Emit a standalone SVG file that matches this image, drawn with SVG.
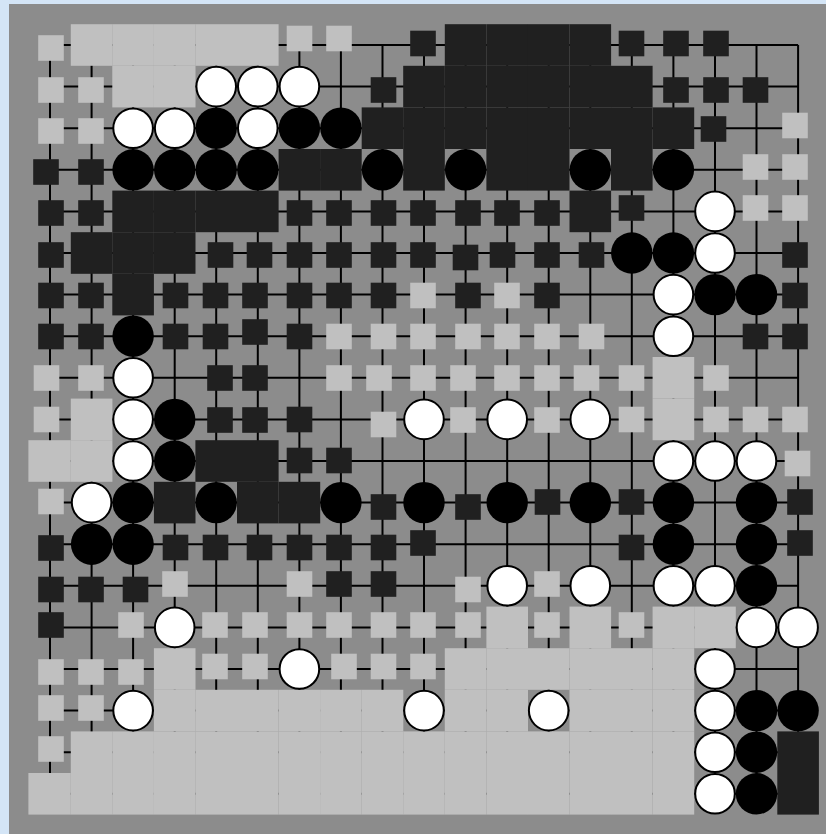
<svg xmlns="http://www.w3.org/2000/svg" width="826" height="834" viewBox="0 0 826 834">
<style>
.bl{fill:#c0c0c0}
.bd{fill:#202020}
.s{width:25.6px;height:25.6px}
.b{fill:#000}
.w{fill:#fff;stroke:#000;stroke-width:2}
.grid{stroke:#000;stroke-width:2;fill:none}
</style>
<rect x="0" y="0" width="826" height="834" fill="#d4e5f6"/>
<rect id="board" x="9" y="4" width="817" height="830" fill="#8c8c8c"/>
<g id="grid">
<path class="grid" d="M50 45V793.8M91.6 45V793.8M133.1 45V793.8M174.7 45V793.8M216.2 45V793.8M257.8 45V793.8M299.4 45V793.8M340.9 45V793.8M382.5 45V793.8M424 45V793.8M465.6 45V793.8M507.2 45V793.8M548.7 45V793.8M590.3 45V793.8M631.8 45V793.8M673.4 45V793.8M715 45V793.8M756.5 45V793.8M798.1 45V793.8"/>
<path class="grid" d="M50 45H798.1M50 86.6H798.1M50 128.2H798.1M50 169.8H798.1M50 211.4H798.1M50 253H798.1M50 294.6H798.1M50 336.2H798.1M50 377.8H798.1M50 419.4H798.1M50 461H798.1M50 502.6H798.1M50 544.2H798.1M50 585.8H798.1M50 627.4H798.1M50 669H798.1M50 710.6H798.1M50 752.2H798.1M50 793.8H798.1"/>
</g>
<g id="territory-large-light" class="bl">
<rect x="70.8" y="24.2" width="41.6" height="41.6"/><rect x="112.3" y="24.2" width="41.6" height="41.6"/><rect x="153.9" y="24.2" width="41.6" height="41.6"/><rect x="195.4" y="24.2" width="41.6" height="41.6"/><rect x="237" y="24.2" width="41.6" height="41.6"/>
<rect x="112.3" y="65.8" width="41.6" height="41.6"/><rect x="153.9" y="65.8" width="41.6" height="41.6"/>
<rect x="652.6" y="357" width="41.6" height="41.6"/>
<rect x="70.8" y="398.6" width="41.6" height="41.6"/><rect x="652.6" y="398.6" width="41.6" height="41.6"/>
<rect x="28.4" y="440.2" width="42.4" height="41.6"/><rect x="70.8" y="440.2" width="41.6" height="41.6"/>
<rect x="486.4" y="606.6" width="41.6" height="41.6"/><rect x="569.5" y="606.6" width="41.6" height="41.6"/><rect x="652.6" y="606.6" width="41.6" height="41.6"/><rect x="694.2" y="606.6" width="41.6" height="41.6"/>
<rect x="153.9" y="648.2" width="41.6" height="41.6"/><rect x="444.8" y="648.2" width="41.6" height="41.6"/><rect x="486.4" y="648.2" width="41.6" height="41.6"/><rect x="527.9" y="648.2" width="41.6" height="41.6"/><rect x="569.5" y="648.2" width="41.6" height="41.6"/><rect x="611" y="648.2" width="41.6" height="41.6"/><rect x="652.6" y="648.2" width="41.6" height="41.6"/>
<rect x="153.9" y="689.8" width="41.6" height="41.6"/><rect x="195.4" y="689.8" width="41.6" height="41.6"/><rect x="237" y="689.8" width="41.6" height="41.6"/><rect x="278.6" y="689.8" width="41.6" height="41.6"/><rect x="320.1" y="689.8" width="41.6" height="41.6"/><rect x="361.7" y="689.8" width="41.6" height="41.6"/><rect x="444.8" y="689.8" width="41.6" height="41.6"/><rect x="486.4" y="689.8" width="41.6" height="41.6"/><rect x="569.5" y="689.8" width="41.6" height="41.6"/><rect x="611" y="689.8" width="41.6" height="41.6"/><rect x="652.6" y="689.8" width="41.6" height="41.6"/>
<rect x="70.8" y="731.4" width="41.6" height="41.6"/><rect x="112.3" y="731.4" width="41.6" height="41.6"/><rect x="153.9" y="731.4" width="41.6" height="41.6"/><rect x="195.4" y="731.4" width="41.6" height="41.6"/><rect x="237" y="731.4" width="41.6" height="41.6"/><rect x="278.6" y="731.4" width="41.6" height="41.6"/><rect x="320.1" y="731.4" width="41.6" height="41.6"/><rect x="361.7" y="731.4" width="41.6" height="41.6"/><rect x="403.2" y="731.4" width="41.6" height="41.6"/><rect x="444.8" y="731.4" width="41.6" height="41.6"/><rect x="486.4" y="731.4" width="41.6" height="41.6"/><rect x="527.9" y="731.4" width="41.6" height="41.6"/><rect x="569.5" y="731.4" width="41.6" height="41.6"/><rect x="611" y="731.4" width="41.6" height="41.6"/><rect x="652.6" y="731.4" width="41.6" height="41.6"/>
<rect x="28.4" y="773" width="42.4" height="41.6"/><rect x="70.8" y="773" width="41.6" height="41.6"/><rect x="112.3" y="773" width="41.6" height="41.6"/><rect x="153.9" y="773" width="41.6" height="41.6"/><rect x="195.4" y="773" width="41.6" height="41.6"/><rect x="237" y="773" width="41.6" height="41.6"/><rect x="278.6" y="773" width="41.6" height="41.6"/><rect x="320.1" y="773" width="41.6" height="41.6"/><rect x="361.7" y="773" width="41.6" height="41.6"/><rect x="403.2" y="773" width="41.6" height="41.6"/><rect x="444.8" y="773" width="41.6" height="41.6"/><rect x="486.4" y="773" width="41.6" height="41.6"/><rect x="527.9" y="773" width="41.6" height="41.6"/><rect x="569.5" y="773" width="41.6" height="41.6"/><rect x="611" y="773" width="41.6" height="41.6"/><rect x="652.6" y="773" width="41.6" height="41.6"/>
</g>
<g id="territory-large-dark" class="bd">
<rect x="444.8" y="24.2" width="41.6" height="41.6"/><rect x="486.4" y="24.2" width="41.6" height="41.6"/><rect x="527.9" y="24.2" width="41.6" height="41.6"/><rect x="569.5" y="24.2" width="41.6" height="41.6"/>
<rect x="403.2" y="65.8" width="41.6" height="41.6"/><rect x="444.8" y="65.8" width="41.6" height="41.6"/><rect x="486.4" y="65.8" width="41.6" height="41.6"/><rect x="527.9" y="65.8" width="41.6" height="41.6"/><rect x="569.5" y="65.8" width="41.6" height="41.6"/><rect x="611" y="65.8" width="41.6" height="41.6"/>
<rect x="361.7" y="107.4" width="41.6" height="41.6"/><rect x="403.2" y="107.4" width="41.6" height="41.6"/><rect x="444.8" y="107.4" width="41.6" height="41.6"/><rect x="486.4" y="107.4" width="41.6" height="41.6"/><rect x="527.9" y="107.4" width="41.6" height="41.6"/><rect x="569.5" y="107.4" width="41.6" height="41.6"/><rect x="611" y="107.4" width="41.6" height="41.6"/><rect x="652.6" y="107.4" width="41.6" height="41.6"/>
<rect x="278.6" y="149" width="41.6" height="41.6"/><rect x="320.1" y="149" width="41.6" height="41.6"/><rect x="403.2" y="149" width="41.6" height="41.6"/><rect x="486.4" y="149" width="41.6" height="41.6"/><rect x="527.9" y="149" width="41.6" height="41.6"/><rect x="611" y="149" width="41.6" height="41.6"/>
<rect x="112.3" y="190.6" width="41.6" height="41.6"/><rect x="153.9" y="190.6" width="41.6" height="41.6"/><rect x="195.4" y="190.6" width="41.6" height="41.6"/><rect x="237" y="190.6" width="41.6" height="41.6"/><rect x="569.5" y="190.6" width="41.6" height="41.6"/>
<rect x="70.8" y="232.2" width="41.6" height="41.6"/><rect x="112.3" y="232.2" width="41.6" height="41.6"/><rect x="153.9" y="232.2" width="41.6" height="41.6"/>
<rect x="112.3" y="273.8" width="41.6" height="41.6"/>
<rect x="195.4" y="440.2" width="41.6" height="41.6"/><rect x="237" y="440.2" width="41.6" height="41.6"/>
<rect x="153.9" y="481.8" width="41.6" height="41.6"/><rect x="237" y="481.8" width="41.6" height="41.6"/><rect x="278.6" y="481.8" width="41.6" height="41.6"/>
<rect x="777.3" y="731.4" width="41.6" height="41.6"/><rect x="777.3" y="773" width="41.6" height="41.6"/>
</g>
<g id="territory-small-light" class="bl">
<rect class="s" x="38.2" y="35.2"/><rect class="s" x="286.7" y="25.7"/><rect class="s" x="326.2" y="25.7"/>
<rect class="s" x="38.2" y="77.2"/><rect class="s" x="78.2" y="77.2"/>
<rect class="s" x="38.2" y="118.2"/><rect class="s" x="78.2" y="118.2"/><rect class="s" x="782.2" y="112.7"/>
<rect class="s" x="742.7" y="154.2"/><rect class="s" x="782.2" y="154.2"/>
<rect class="s" x="742.7" y="195.2"/><rect class="s" x="782.2" y="195.2"/>
<rect class="s" x="410.2" y="282.7"/><rect class="s" x="494.2" y="282.7"/>
<rect class="s" x="326.2" y="323.7"/><rect class="s" x="370.7" y="323.7"/><rect class="s" x="410.2" y="323.7"/><rect class="s" x="455.2" y="323.7"/><rect class="s" x="494.2" y="323.7"/><rect class="s" x="534.2" y="323.7"/><rect class="s" x="578.7" y="323.7"/>
<rect class="s" x="33.7" y="365.2"/><rect class="s" x="78.2" y="365.2"/><rect class="s" x="326.2" y="365.2"/><rect class="s" x="366.2" y="365.2"/><rect class="s" x="410.2" y="365.2"/><rect class="s" x="450.2" y="365.2"/><rect class="s" x="494.2" y="365.2"/><rect class="s" x="534.2" y="365.2"/><rect class="s" x="573.7" y="365.2"/><rect class="s" x="618.7" y="365.2"/><rect class="s" x="703.2" y="365.2"/>
<rect class="s" x="33.7" y="406.7"/><rect class="s" x="370.7" y="411.7"/><rect class="s" x="450.2" y="407.2"/><rect class="s" x="534.2" y="407.2"/><rect class="s" x="618.7" y="406.7"/><rect class="s" x="703.2" y="406.7"/><rect class="s" x="742.7" y="406.7"/><rect class="s" x="782.2" y="406.7"/>
<rect class="s" x="784.7" y="450.7"/>
<rect class="s" x="38.2" y="488.7"/>
<rect class="s" x="162.2" y="571.2"/><rect class="s" x="286.7" y="571.2"/><rect class="s" x="455.2" y="576.7"/><rect class="s" x="534.2" y="571.2"/>
<rect class="s" x="118.2" y="612.2"/><rect class="s" x="202.2" y="612.2"/><rect class="s" x="242.2" y="612.2"/><rect class="s" x="286.7" y="612.2"/><rect class="s" x="326.2" y="612.2"/><rect class="s" x="370.7" y="612.2"/><rect class="s" x="410.2" y="612.2"/><rect class="s" x="455.2" y="612.2"/><rect class="s" x="534.2" y="612.2"/><rect class="s" x="618.7" y="612.2"/>
<rect class="s" x="38.2" y="659.2"/><rect class="s" x="78.2" y="659.2"/><rect class="s" x="118.2" y="659.2"/><rect class="s" x="202.2" y="653.7"/><rect class="s" x="242.2" y="653.7"/><rect class="s" x="331.2" y="653.7"/><rect class="s" x="370.7" y="653.7"/><rect class="s" x="410.2" y="653.7"/>
<rect class="s" x="38.2" y="695.2"/><rect class="s" x="78.2" y="695.2"/>
<rect class="s" x="38.2" y="736.2"/>
</g>
<g id="territory-small-dark" class="bd">
<rect class="s" x="410.2" y="30.7"/><rect class="s" x="618.7" y="30.7"/><rect class="s" x="663.2" y="30.7"/><rect class="s" x="703.2" y="30.7"/>
<rect class="s" x="370.7" y="77.2"/><rect class="s" x="663.2" y="77.2"/><rect class="s" x="703.2" y="77.2"/><rect class="s" x="742.7" y="77.2"/>
<rect class="s" x="700.7" y="116.2"/>
<rect class="s" x="33.2" y="159.2"/><rect class="s" x="78.2" y="159.2"/>
<rect class="s" x="38.2" y="200.2"/><rect class="s" x="78.2" y="200.2"/><rect class="s" x="286.7" y="200.2"/><rect class="s" x="326.2" y="200.2"/><rect class="s" x="370.7" y="200.2"/><rect class="s" x="410.2" y="200.2"/><rect class="s" x="455.2" y="200.2"/><rect class="s" x="494.2" y="200.2"/><rect class="s" x="534.2" y="200.2"/><rect class="s" x="618.7" y="195.2"/>
<rect class="s" x="38.2" y="242.2"/><rect class="s" x="207.7" y="242.2"/><rect class="s" x="246.7" y="242.2"/><rect class="s" x="286.7" y="242.2"/><rect class="s" x="326.2" y="242.2"/><rect class="s" x="370.7" y="242.2"/><rect class="s" x="410.2" y="242.2"/><rect class="s" x="452.7" y="244.7"/><rect class="s" x="489.7" y="242.2"/><rect class="s" x="534.2" y="242.2"/><rect class="s" x="578.7" y="242.2"/><rect class="s" x="782.2" y="242.2"/>
<rect class="s" x="38.2" y="282.7"/><rect class="s" x="78.2" y="282.7"/><rect class="s" x="162.7" y="282.7"/><rect class="s" x="202.7" y="282.7"/><rect class="s" x="242.2" y="282.7"/><rect class="s" x="286.7" y="282.7"/><rect class="s" x="326.2" y="282.7"/><rect class="s" x="370.7" y="282.7"/><rect class="s" x="455.2" y="282.7"/><rect class="s" x="534.2" y="282.7"/><rect class="s" x="782.2" y="282.7"/>
<rect class="s" x="38.2" y="323.7"/><rect class="s" x="78.2" y="323.7"/><rect class="s" x="162.7" y="323.7"/><rect class="s" x="202.7" y="323.7"/><rect class="s" x="242.2" y="319.2"/><rect class="s" x="286.7" y="323.7"/><rect class="s" x="742.7" y="323.7"/><rect class="s" x="782.2" y="323.7"/>
<rect class="s" x="207.2" y="365.2"/><rect class="s" x="242.2" y="365.2"/>
<rect class="s" x="207.2" y="407.2"/><rect class="s" x="242.2" y="407.2"/><rect class="s" x="286.7" y="406.7"/>
<rect class="s" x="286.7" y="447.7"/><rect class="s" x="326.2" y="447.7"/>
<rect class="s" x="370.7" y="494.2"/><rect class="s" x="455.2" y="494.2"/><rect class="s" x="534.7" y="489.2"/><rect class="s" x="618.7" y="489.2"/><rect class="s" x="787.2" y="489.2"/>
<rect class="s" x="38.2" y="535.2"/><rect class="s" x="162.7" y="534.7"/><rect class="s" x="202.7" y="534.7"/><rect class="s" x="246.7" y="534.7"/><rect class="s" x="286.7" y="534.7"/><rect class="s" x="326.2" y="534.7"/><rect class="s" x="370.7" y="534.7"/><rect class="s" x="410.2" y="530.2"/><rect class="s" x="618.7" y="534.7"/><rect class="s" x="787.2" y="530.2"/>
<rect class="s" x="38.2" y="576.7"/><rect class="s" x="78.2" y="576.7"/><rect class="s" x="122.7" y="576.7"/><rect class="s" x="326.2" y="571.2"/><rect class="s" x="370.7" y="571.2"/>
<rect class="s" x="38.2" y="612.2"/>
</g>
<g id="black-stones" class="b">
<circle cx="216.2" cy="128.2" r="20.7"/><circle cx="299.4" cy="128.2" r="20.7"/><circle cx="340.9" cy="128.2" r="20.7"/>
<circle cx="133.1" cy="169.8" r="20.7"/><circle cx="174.7" cy="169.8" r="20.7"/><circle cx="216.2" cy="169.8" r="20.7"/><circle cx="257.8" cy="169.8" r="20.7"/><circle cx="382.5" cy="169.8" r="20.7"/><circle cx="465.6" cy="169.8" r="20.7"/><circle cx="590.3" cy="169.8" r="20.7"/><circle cx="673.4" cy="169.8" r="20.7"/>
<circle cx="631.8" cy="253" r="20.7"/><circle cx="673.4" cy="253" r="20.7"/>
<circle cx="715" cy="294.6" r="20.7"/><circle cx="756.5" cy="294.6" r="20.7"/>
<circle cx="133.1" cy="336.2" r="20.7"/>
<circle cx="174.7" cy="419.4" r="20.7"/>
<circle cx="174.7" cy="461" r="20.7"/>
<circle cx="133.1" cy="502.6" r="20.7"/><circle cx="216.2" cy="502.6" r="20.7"/><circle cx="340.9" cy="502.6" r="20.7"/><circle cx="424" cy="502.6" r="20.7"/><circle cx="507.2" cy="502.6" r="20.7"/><circle cx="590.3" cy="502.6" r="20.7"/><circle cx="673.4" cy="502.6" r="20.7"/><circle cx="756.5" cy="502.6" r="20.7"/>
<circle cx="91.6" cy="544.2" r="20.7"/><circle cx="133.1" cy="544.2" r="20.7"/><circle cx="673.4" cy="544.2" r="20.7"/><circle cx="756.5" cy="544.2" r="20.7"/>
<circle cx="756.5" cy="585.8" r="20.7"/>
<circle cx="756.5" cy="710.6" r="20.7"/><circle cx="798.1" cy="710.6" r="20.7"/>
<circle cx="756.5" cy="752.2" r="20.7"/>
<circle cx="756.5" cy="793.8" r="20.7"/>
</g>
<g id="white-stones" class="w">
<circle cx="216.2" cy="86.6" r="19.8"/><circle cx="257.8" cy="86.6" r="19.8"/><circle cx="299.4" cy="86.6" r="19.8"/>
<circle cx="133.1" cy="128.2" r="19.8"/><circle cx="174.7" cy="128.2" r="19.8"/><circle cx="257.8" cy="128.2" r="19.8"/>
<circle cx="715" cy="211.4" r="19.8"/>
<circle cx="715" cy="253" r="19.8"/>
<circle cx="673.4" cy="294.6" r="19.8"/>
<circle cx="673.4" cy="336.2" r="19.8"/>
<circle cx="133.1" cy="377.8" r="19.8"/>
<circle cx="133.1" cy="419.4" r="19.8"/><circle cx="424" cy="419.4" r="19.8"/><circle cx="507.2" cy="419.4" r="19.8"/><circle cx="590.3" cy="419.4" r="19.8"/>
<circle cx="133.1" cy="461" r="19.8"/><circle cx="673.4" cy="461" r="19.8"/><circle cx="715" cy="461" r="19.8"/><circle cx="756.5" cy="461" r="19.8"/>
<circle cx="91.6" cy="502.6" r="19.8"/>
<circle cx="507.2" cy="585.8" r="19.8"/><circle cx="590.3" cy="585.8" r="19.8"/><circle cx="673.4" cy="585.8" r="19.8"/><circle cx="715" cy="585.8" r="19.8"/>
<circle cx="174.7" cy="627.4" r="19.8"/><circle cx="756.5" cy="627.4" r="19.8"/><circle cx="798.1" cy="627.4" r="19.8"/>
<circle cx="299.4" cy="669" r="19.8"/><circle cx="715" cy="669" r="19.8"/>
<circle cx="133.1" cy="710.6" r="19.8"/><circle cx="424" cy="710.6" r="19.8"/><circle cx="548.7" cy="710.6" r="19.8"/><circle cx="715" cy="710.6" r="19.8"/>
<circle cx="715" cy="752.2" r="19.8"/>
<circle cx="715" cy="793.8" r="19.8"/>
</g>
</svg>
